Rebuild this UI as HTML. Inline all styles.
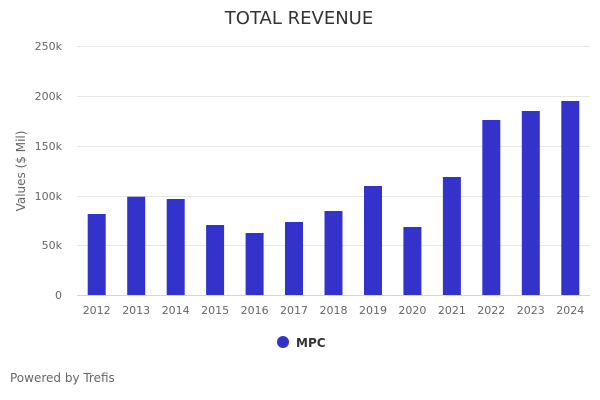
<!DOCTYPE html>
<html><head><meta charset="utf-8"><style>
html,body{margin:0;padding:0;background:#fff;}
svg{display:block;font-family:"DejaVu Sans","Liberation Sans",sans-serif;}
</style></head><body>
<svg width="600" height="400" viewBox="0 0 600 400" xmlns="http://www.w3.org/2000/svg">
<rect width="600" height="400" fill="#fff"/>
<text x="299" y="24" text-anchor="middle" font-size="18" fill="#333">TOTAL REVENUE</text>
<g stroke="#e6e6e6" stroke-width="1">
<line x1="77" y1="46.5" x2="590" y2="46.5"/>
<line x1="77" y1="96.5" x2="590" y2="96.5"/>
<line x1="77" y1="146.5" x2="590" y2="146.5"/>
<line x1="77" y1="196.5" x2="590" y2="196.5"/>
<line x1="77" y1="245.5" x2="590" y2="245.5"/>
</g>
<g font-size="11" fill="#666" text-anchor="end">
<text x="62" y="50">250k</text>
<text x="62" y="100">200k</text>
<text x="62" y="150">150k</text>
<text x="62" y="200">100k</text>
<text x="62" y="249">50k</text>
<text x="62" y="299">0</text>
</g>
<text transform="translate(25,171) rotate(-90)" text-anchor="middle" font-size="12" fill="#666">Values ($ Mil)</text>
<g fill="#3333cc">
<rect x="87.7" y="214" width="18" height="81"/>
<rect x="127.2" y="196.7" width="18" height="98.3"/>
<rect x="166.7" y="199" width="18" height="96"/>
<rect x="206.1" y="225" width="18" height="70"/>
<rect x="245.6" y="233" width="18" height="62"/>
<rect x="285" y="222" width="18" height="73"/>
<rect x="324.5" y="211" width="18" height="84"/>
<rect x="364" y="186" width="18" height="109"/>
<rect x="403.4" y="227" width="18" height="68"/>
<rect x="442.9" y="177" width="18" height="118"/>
<rect x="482.3" y="120" width="18" height="175"/>
<rect x="521.8" y="111" width="18" height="184"/>
<rect x="561.3" y="101" width="18" height="194"/>
</g>
<line x1="77" y1="295.5" x2="590" y2="295.5" stroke="#ccd6eb" stroke-width="1"/>
<g font-size="11" fill="#666" text-anchor="middle">
<text x="96.7" y="314">2012</text>
<text x="136.2" y="314">2013</text>
<text x="175.7" y="314">2014</text>
<text x="215.1" y="314">2015</text>
<text x="254.6" y="314">2016</text>
<text x="294" y="314">2017</text>
<text x="333.5" y="314">2018</text>
<text x="373" y="314">2019</text>
<text x="412.4" y="314">2020</text>
<text x="451.9" y="314">2021</text>
<text x="491.3" y="314">2022</text>
<text x="530.8" y="314">2023</text>
<text x="570.3" y="314">2024</text>
</g>
<circle cx="283" cy="342" r="6" fill="#3333cc"/>
<text x="296" y="347" font-size="12" font-weight="bold" fill="#333">MPC</text>
<text x="10" y="382" font-size="12" fill="#666">Powered by Trefis</text>
</svg>
</body></html>
